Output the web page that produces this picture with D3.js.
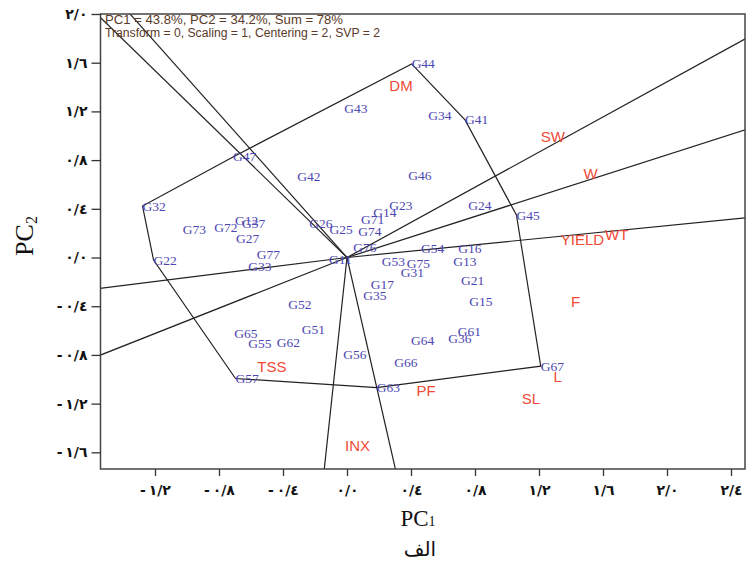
<!DOCTYPE html>
<html><head><meta charset="utf-8">
<script src="https://cdn.jsdelivr.net/npm/d3@7"></script>
<style>body{margin:0;background:#fff}</style>
</head><body>
<svg id="c" width="747" height="562"></svg>
<script>
// ---- data ----
const genoNames = ["G44","G41","G45","G67","G63","G57","G22","G32","G47","G42","G43","G34","G46","G23","G14","G71","G74","G24","G26","G25","G76","G11","G73","G72","G12","G37","G27","G77","G33","G54","G16","G53","G75","G13","G31","G21","G17","G35","G15","G61","G36","G64","G56","G66","G52","G51","G65","G55","G62"];
const genoPC1 = [0.404,0.7375,1.059,1.211,0.186,-0.697,-1.209,-1.278,-0.7125,-0.311,-0.017,0.508,0.383,0.264,0.164,0.0875,0.071,0.758,-0.236,-0.109,0.039,-0.1125,-1.027,-0.829,-0.70,-0.656,-0.694,-0.564,-0.617,0.4625,0.696,0.217,0.373,0.664,0.336,0.7125,0.148,0.102,0.764,0.692,0.633,0.40,-0.023,0.296,-0.367,-0.283,-0.704,-0.617,-0.439];
const genoPC2 = [1.590,1.130,0.349,-0.892,-1.068,-0.994,-0.021,0.423,0.826,0.664,1.226,1.165,0.672,0.426,0.371,0.316,0.212,0.426,0.279,0.234,0.082,-0.016,0.232,0.248,0.308,0.279,0.158,0.026,-0.076,0.070,0.070,-0.035,-0.048,-0.035,-0.125,-0.191,-0.220,-0.311,-0.363,-0.610,-0.664,-0.678,-0.797,-0.861,-0.390,-0.588,-0.623,-0.705,-0.697];
const hullOrder = ["G44","G41","G45","G67","G63","G57","G22","G32","G47"];
const traitNames = ["DM","SW","W","YIELD","WT","F","L","SL","PF","TSS","INX"];
const traitPC1 = [0.3375,1.286,1.522,1.472,1.686,1.428,1.316,1.149,0.494,-0.469,0.066];
const traitPC2 = [1.409,0.993,0.692,0.144,0.185,-0.363,-0.978,-1.157,-1.089,-0.897,-1.541];
const rayPC1 = [-1.525,-1.356,2.4875,2.4875,2.4875,-1.5406,-1.5406,-0.142,0.3025];
const rayPC2 = [1.951,2.0,1.795,1.048,0.325,-0.253,-0.801,-1.737,-1.737];
const xTicks = [-1.2,-0.8,-0.4,0,0.4,0.8,1.2,1.6,2.0,2.4];
const xTickLabels = ["-\u2009١/٢","-\u2009٠/٨","-\u2009٠/٤","٠/٠","٠/٤","٠/٨","١/٢","١/٦","٢/٠","٢/٤"];
const yTicks = [-1.6,-1.2,-0.8,-0.4,0,0.4,0.8,1.2,1.6,2.0];
const yTickLabels = ["-\u2009١/٦","-\u2009١/٢","-\u2009٠/٨","-\u2009٠/٤","٠/٠","٠/٤","٠/٨","١/٢","١/٦","٢/٠"];
const headerLines = ["PC1 = 43.8%, PC2 = 34.2%, Sum = 78%","Transform = 0, Scaling = 1, Centering = 2, SVP = 2"];
const headerWidths = [238, 275];

// ---- layout ----
const L = 100.5, R = 745, T = 14, B = 469;
const x = d3.scaleLinear().domain([-1.5406, 2.4875]).range([L, R]);
const y = d3.scaleLinear().domain([-1.737, 2.0]).range([B, T]);
const svg = d3.select("#c");

svg.append("defs").append("clipPath").attr("id","clip")
  .append("rect").attr("x",L).attr("y",T).attr("width",R-L).attr("height",B-T);

const plot = svg.append("g").attr("clip-path","url(#clip)");

// polygon
const idx = Object.fromEntries(genoNames.map((n,i)=>[n,i]));
const hullPts = hullOrder.map(n=>[x(genoPC1[idx[n]]), y(genoPC2[idx[n]])]);
plot.append("path")
  .attr("d", d3.line()(hullPts) + "Z")
  .attr("fill","none").attr("stroke","#222").attr("stroke-width",1.2);

// rays
rayPC1.forEach((v,i)=>{
  plot.append("line")
    .attr("x1",x(0)).attr("y1",y(0))
    .attr("x2",x(v*1.08)).attr("y2",y(rayPC2[i]*1.08))
    .attr("stroke","#222").attr("stroke-width",1.2);
});

// frame
svg.append("rect").attr("x",L).attr("y",T).attr("width",R-L).attr("height",B-T)
  .attr("fill","none").attr("stroke","#444").attr("stroke-width",1.5);

// axes
const xAxis = d3.axisBottom(x).tickValues(xTicks).tickSize(7).tickFormat((d,i)=>xTickLabels[i]);
const gx = svg.append("g").attr("transform",`translate(0,${B})`).call(xAxis);
gx.select(".domain").remove();
gx.selectAll(".tick line").attr("stroke","#333").attr("stroke-width",1.3);
gx.selectAll(".tick text").attr("font-family","DejaVu Sans").attr("font-weight","bold")
  .attr("font-size",14).attr("fill","#111").attr("direction","ltr").attr("dy","1.15em");

const yAxis = d3.axisLeft(y).tickValues(yTicks).tickSize(9).tickFormat((d,i)=>yTickLabels[i]);
const gy = svg.append("g").attr("transform",`translate(${L},0)`).call(yAxis);
gy.select(".domain").remove();
gy.selectAll(".tick line").attr("stroke","#333").attr("stroke-width",1.3);
gy.selectAll(".tick text").attr("font-family","DejaVu Sans").attr("font-weight","bold")
  .attr("font-size",14).attr("fill","#111").attr("direction","ltr").attr("x",-13);

// genotype labels
svg.append("g").selectAll("text").data(genoNames).join("text")
  .attr("x",(d,i)=>x(genoPC1[i])).attr("y",(d,i)=>y(genoPC2[i]))
  .attr("dominant-baseline","central")
  .attr("font-family","Liberation Serif").attr("font-size",13.5)
  .attr("fill","#4c46b2").text(d=>d);

// trait labels
svg.append("g").selectAll("text").data(traitNames).join("text")
  .attr("x",(d,i)=>x(traitPC1[i])).attr("y",(d,i)=>y(traitPC2[i]))
  .attr("text-anchor","middle").attr("dominant-baseline","central")
  .attr("font-family","Liberation Sans").attr("font-size",15)
  .attr("fill","#f04a36").text(d=>d);

// header
svg.append("g").selectAll("text").data(headerLines).join("text")
  .attr("x",105).attr("y",(d,i)=>20+i*13).attr("dominant-baseline","central")
  .attr("font-family","Liberation Sans").attr("font-size",12)
  .attr("textLength",(d,i)=>headerWidths[i]).attr("lengthAdjust","spacingAndGlyphs")
  .attr("fill","#5a3a28").text(d=>d);

// axis titles
const t1 = svg.append("text").attr("x",418).attr("y",526).attr("text-anchor","middle")
  .attr("font-family","Liberation Serif").attr("font-size",23).attr("fill","#111");
t1.append("tspan").text("PC");
t1.append("tspan").attr("font-size",14).text("1");

const t2 = svg.append("text").attr("transform","translate(33,236) rotate(-90)")
  .attr("text-anchor","middle")
  .attr("font-family","Liberation Serif").attr("font-size",26).attr("fill","#111");
t2.append("tspan").text("PC");
t2.append("tspan").attr("font-size",16).attr("dy",4).text("2");

svg.append("text").attr("x",420).attr("y",556).attr("text-anchor","middle")
  .attr("font-family","DejaVu Sans").attr("font-size",20).attr("fill","#111")
  .attr("direction","rtl").text("الف");
</script>
</body></html>
